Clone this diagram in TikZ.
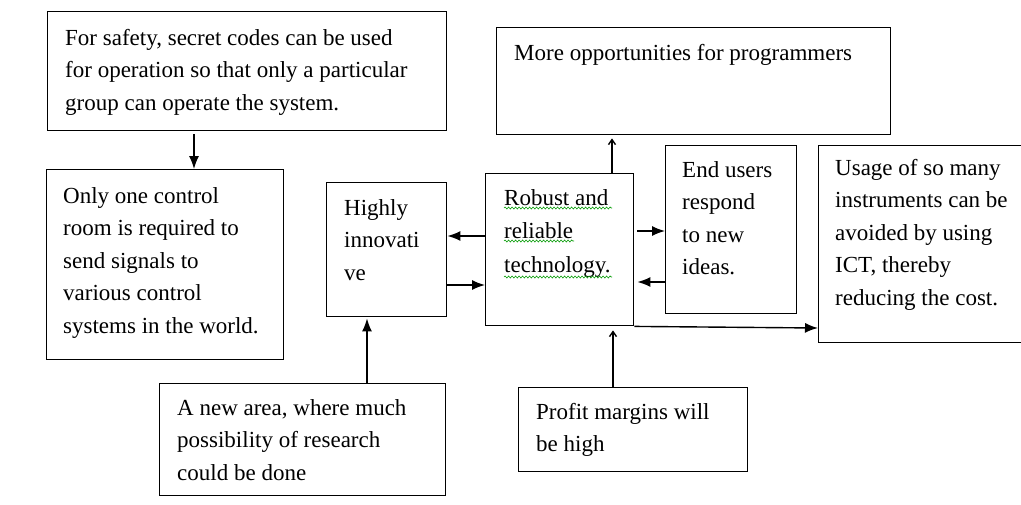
\documentclass[tikz,border=0pt]{standalone}
\usepackage{fontspec}
\setmainfont{Liberation Serif}
\usetikzlibrary{arrows.meta,calc,decorations.pathmorphing}
\begin{document}
\begin{tikzpicture}[x=1pt,y=-1pt,
 box/.style={draw=black,line width=1.4pt,rectangle,anchor=north west,inner sep=0pt},
 txt/.style={anchor=north west,inner sep=0pt,align=left,font=\fontsize{23}{32.5}\selectfont},
 arr/.style={line width=1.4pt,-{Latex[length=13pt,width=10pt]}},
 thinarr/.style={line width=1.4pt,-{Straight Barb[length=5pt,width=7pt]}},
 squig/.style={draw=green!60!black,line width=0.6pt,decorate,decoration={snake,amplitude=1pt,segment length=3.5pt}}]
\useasboundingbox (0,0) rectangle (1021,504);
\clip (0,0) rectangle (1021,504);
% boxes
\node[box,minimum width=399pt,minimum height=119pt] (safety) at (47,11) {};
\node[box,minimum width=237pt,minimum height=190pt] (only) at (46,169) {};
\node[box,minimum width=120pt,minimum height=134pt] (highly) at (326,182) {};
\node[box,minimum width=148pt,minimum height=152pt] (robust) at (485,173) {};
\node[box,minimum width=131pt,minimum height=168pt] (endu) at (665,145) {};
\node[box,minimum width=394pt,minimum height=107pt] (opp) at (496,27) {};
\node[box,minimum width=212pt,minimum height=197pt] (usage) at (818,145) {};
\node[box,minimum width=286pt,minimum height=112pt] (anew) at (159,383) {};
\node[box,minimum width=229pt,minimum height=84pt] (profit) at (518,387) {};
% texts
\node[txt] (tsafety) at (65,25) {\rule{0pt}{20pt}For safety, secret codes can be used\\for operation so that only a particular\\group can operate the system.};
\node[txt] (tonly) at (63,183) {\rule{0pt}{20pt}Only one control\\room is required to\\send signals to\\various control\\systems in the world.};
\node[txt] (thighly) at (344,195) {\rule{0pt}{20pt}Highly\\innovati\\ve};
\node[txt,font=\fontsize{23}{33.5}\selectfont] (trobust) at (504,185) {\rule{0pt}{20pt}Robust and\\reliable\\technology.};
\node[txt] (tendu) at (682,157) {\rule{0pt}{20pt}End users\\respond\\to new\\ideas.};
\node[txt] (topp) at (514,40) {\rule{0pt}{20pt}More opportunities for programmers};
\node[txt] (tusage) at (835,155) {\rule{0pt}{20pt}Usage of so many\\instruments can be\\avoided by using\\ICT, thereby\\reducing the cost.};
\node[txt] (tanew) at (177,395) {\rule{0pt}{20pt}A new area, where much\\possibility of research\\could be done};
\node[txt] (tprofit) at (536,399) {\rule{0pt}{20pt}Profit margins will\\be high};
% spell-check underlines
\draw[squig] ($(trobust.north west)+(0,23)$) -- ++(108,0);
\draw[squig] ($(trobust.north west)+(0,56)$) -- ++(70,0);
\draw[squig] ($(trobust.north west)+(0,92)$) -- ++(108,0);
% connectors
\draw[arr] ($(safety.south west)+(147,3)$) -- ($(only.north west)+(148,0)$);
\draw[arr] ($(robust.north west)+(0,63)$) -- ($(highly.north east)+(0,54)$);
\draw[arr] ($(highly.north east)+(0,103)$) -- ($(robust.north west)+(0,112)$);
\draw[arr] ($(robust.north east)+(3,58)$) -- ($(endu.north west)+(0,86)$);
\draw[arr] ($(endu.north west)+(0,137)$) -- ($(robust.north east)+(3,109)$);
\draw[thinarr] ($(robust.north west)+(127,0)$) -- ($(opp.south west)+(116,3)$);
\draw[thinarr] ($(profit.north west)+(95,0)$) -- ($(robust.south west)+(128,4)$);
\draw[arr] ($(anew.north west)+(208,0)$) -- ($(highly.south west)+(41,1)$);
\draw[arr] (robust.south east) -- ($(usage.north west)+(0,183)$);
\end{tikzpicture}
\end{document}
